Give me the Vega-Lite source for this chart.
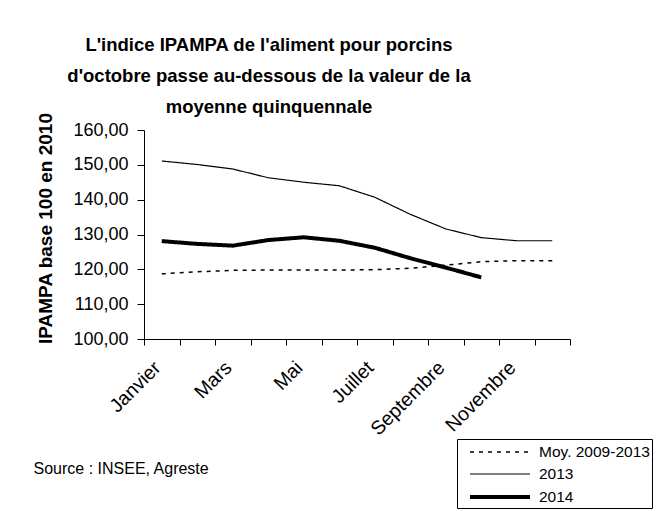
{
  "$schema": "https://vega.github.io/schema/vega-lite/v6.json",
  "width": 426,
  "height": 209,
  "autosize": {"type": "none"},
  "padding": {"left": 144, "top": 130, "right": 88, "bottom": 172},
  "background": "white",
  "config": {"view": {"stroke": null}, "font": "Liberation Sans"},
  "title": {
    "text": ["L'indice IPAMPA de l'aliment pour porcins", "d'octobre passe au-dessous de la valeur de la", "moyenne quinquennale"],
    "fontSize": 18.5,
    "fontWeight": "bold",
    "lineHeight": 31,
    "anchor": "middle",
    "frame": "group",
    "dx": -88,
    "offset": -4,
    "color": "black"
  },
  "data": {
    "values": [
      {"mois": "Janvier", "serie": "2013", "valeur": 151.1},
      {"mois": "Février", "serie": "2013", "valeur": 150.1},
      {"mois": "Mars", "serie": "2013", "valeur": 148.8},
      {"mois": "Avril", "serie": "2013", "valeur": 146.3},
      {"mois": "Mai", "serie": "2013", "valeur": 145.0},
      {"mois": "Juin", "serie": "2013", "valeur": 144.0},
      {"mois": "Juillet", "serie": "2013", "valeur": 140.7},
      {"mois": "Août", "serie": "2013", "valeur": 135.8},
      {"mois": "Septembre", "serie": "2013", "valeur": 131.6},
      {"mois": "Octobre", "serie": "2013", "valeur": 129.1},
      {"mois": "Novembre", "serie": "2013", "valeur": 128.2},
      {"mois": "Décembre", "serie": "2013", "valeur": 128.2},
      {"mois": "Janvier", "serie": "2014", "valeur": 128.1},
      {"mois": "Février", "serie": "2014", "valeur": 127.3},
      {"mois": "Mars", "serie": "2014", "valeur": 126.8},
      {"mois": "Avril", "serie": "2014", "valeur": 128.4},
      {"mois": "Mai", "serie": "2014", "valeur": 129.2},
      {"mois": "Juin", "serie": "2014", "valeur": 128.2},
      {"mois": "Juillet", "serie": "2014", "valeur": 126.2},
      {"mois": "Août", "serie": "2014", "valeur": 123.2},
      {"mois": "Septembre", "serie": "2014", "valeur": 120.5},
      {"mois": "Octobre", "serie": "2014", "valeur": 117.7},
      {"mois": "Janvier", "serie": "Moy. 2009-2013", "valeur": 118.7},
      {"mois": "Février", "serie": "Moy. 2009-2013", "valeur": 119.3},
      {"mois": "Mars", "serie": "Moy. 2009-2013", "valeur": 119.7},
      {"mois": "Avril", "serie": "Moy. 2009-2013", "valeur": 119.8},
      {"mois": "Mai", "serie": "Moy. 2009-2013", "valeur": 119.8},
      {"mois": "Juin", "serie": "Moy. 2009-2013", "valeur": 119.8},
      {"mois": "Juillet", "serie": "Moy. 2009-2013", "valeur": 119.9},
      {"mois": "Août", "serie": "Moy. 2009-2013", "valeur": 120.3},
      {"mois": "Septembre", "serie": "Moy. 2009-2013", "valeur": 121.2},
      {"mois": "Octobre", "serie": "Moy. 2009-2013", "valeur": 122.2},
      {"mois": "Novembre", "serie": "Moy. 2009-2013", "valeur": 122.5},
      {"mois": "Décembre", "serie": "Moy. 2009-2013", "valeur": 122.5}
    ]
  },
  "mark": {"type": "line", "color": "black", "strokeCap": "butt"},
  "encoding": {
    "x": {
      "field": "mois",
      "type": "ordinal",
      "sort": ["Janvier", "Février", "Mars", "Avril", "Mai", "Juin", "Juillet", "Août", "Septembre", "Octobre", "Novembre", "Décembre"],
      "scale": {"type": "band", "paddingInner": 0, "paddingOuter": 0},
      "bandPosition": 0.5,
      "axis": {
        "title": "Source : INSEE, Agreste",
        "titleFontSize": 16,
        "titleFontWeight": "normal",
        "titleColor": "black",
        "titleAlign": "left",
        "titleAnchor": null,
        "titleX": -111,
        "titleY": 134,
        "titleBaseline": "alphabetic",
        "labelAngle": -45,
        "labelFontSize": 19.5,
        "labelColor": "black",
        "labelPadding": 13,
        "labelOffset": -11,
        "labelExpr": "indexof(['Janvier','Mars','Mai','Juillet','Septembre','Novembre'], datum.value) >= 0 ? datum.label : ''",
        "tickBand": "extent",
        "tickSize": 6,
        "tickColor": "black",
        "domainColor": "black",
        "grid": false,
        "labelOverlap": false
      }
    },
    "y": {
      "field": "valeur",
      "type": "quantitative",
      "scale": {"domain": [100, 160], "nice": false, "zero": false},
      "axis": {
        "title": "IPAMPA base 100 en 2010",
        "titleFontSize": 19,
        "titleFontWeight": "bold",
        "titleColor": "black",
        "titleX": -99,
        "titleY": 98,
        "titleAlign": "center",
        "titleBaseline": "middle",
        "values": [100, 110, 120, 130, 140, 150, 160],
        "labelExpr": "replace(format(datum.value, '.2f'), '.', ',')",
        "labelFontSize": 18,
        "labelColor": "black",
        "labelPadding": 9,
        "tickSize": 7,
        "tickColor": "black",
        "domainColor": "black",
        "grid": false
      }
    },
    "strokeDash": {
      "field": "serie",
      "type": "nominal",
      "scale": {"type": "ordinal", "domain": ["Moy. 2009-2013", "2013", "2014"], "range": [[4, 5], [1, 0], [1, 0]]},
      "legend": {
        "title": null,
        "orient": "none",
        "legendX": 313,
        "legendY": 309,
        "strokeColor": "black",
        "fillColor": "white",
        "padding": 2,
        "symbolType": "M-1,0H5",
        "symbolSize": 400,
        "symbolOffset": 9,
        "symbolStrokeColor": "black",
        "symbolFillColor": "transparent",
        "labelFontSize": 15.5,
        "labelColor": "black",
        "labelOffset": 47,
        "rowPadding": 2
      }
    },
    "strokeWidth": {
      "field": "serie",
      "type": "nominal",
      "scale": {"type": "ordinal", "domain": ["Moy. 2009-2013", "2013", "2014"], "range": [1.5, 1.2, 4]},
      "legend": {
        "title": null,
        "orient": "none",
        "legendX": 313,
        "legendY": 309,
        "strokeColor": "black",
        "fillColor": "white",
        "padding": 2,
        "symbolType": "M-1,0H5",
        "symbolSize": 400,
        "symbolOffset": 9,
        "symbolStrokeColor": "black",
        "symbolFillColor": "transparent",
        "labelFontSize": 15.5,
        "labelColor": "black",
        "labelOffset": 47,
        "rowPadding": 2
      }
    }
  }
}
